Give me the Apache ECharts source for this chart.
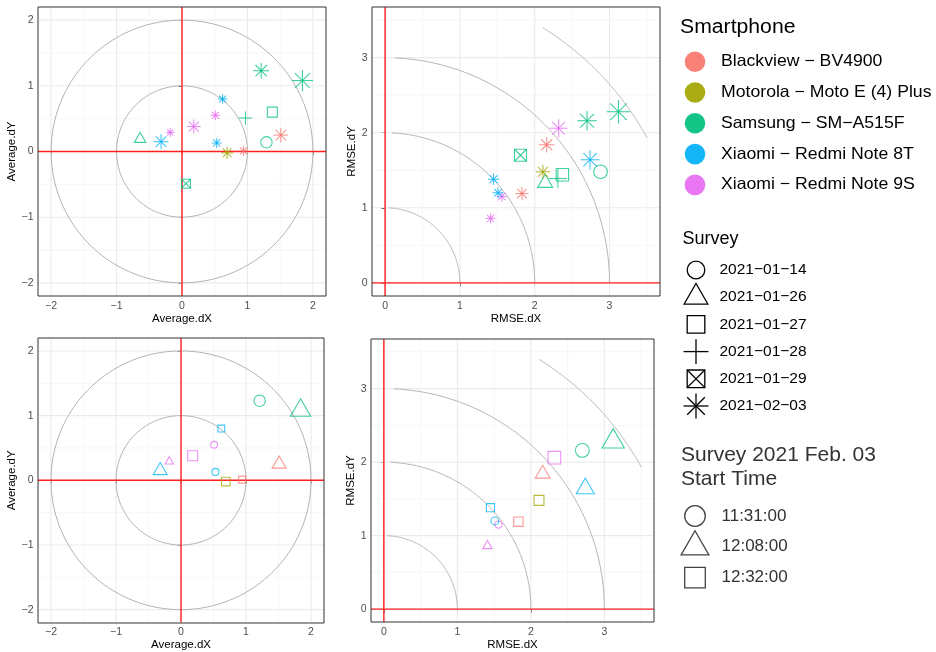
<!DOCTYPE html>
<html><head><meta charset="utf-8">
<script src="https://cdn.jsdelivr.net/npm/echarts@6/dist/echarts.min.js"></script>
<style>html,body{margin:0;padding:0;background:#fff}#c{width:936px;height:652px}</style>
</head><body><div id="c"></div>
<script>
// ================= DATA =================
const phones = ['Blackview \u2212 BV4900', 'Motorola \u2212 Moto E (4) Plus', 'Samsung \u2212 SM\u2212A515F', 'Xiaomi \u2212 Redmi Note 8T', 'Xiaomi \u2212 Redmi Note 9S'];
const surveyDates = ['2021\u221201\u221214', '2021\u221201\u221226', '2021\u221201\u221227', '2021\u221201\u221228', '2021\u221201\u221229', '2021\u221202\u221203'];
const startTimes = ['11:31:00', '12:08:00', '12:32:00'];

const avgTicks = [-2, -1, 0, 1, 2];
const avgMinor = [-1.5, -0.5, 0.5, 1.5];
const rmseTicks = [0, 1, 2, 3];
const rmseMinor = [0.5, 1.5, 2.5, 3.5];
const avgRingRadii = [1, 2];
const rmseArcRadii = [1, 2, 3, 4];
const rmseArcFromDeg = [0, 0, 0, 28.9];
const rmseArcToDeg = [87.4, 87.4, 87.4, 58.2];

// Earlier surveys (Samsung only): survey index 0..4
const earlyPhone = [2, 2, 2, 2, 2];
const earlySurvey = [0, 1, 2, 3, 4];
const earlyAvgDX = [1.29, -0.64, 1.38, 0.97, 0.06];
const earlyAvgDY = [0.14, 0.19, 0.60, 0.51, -0.49];
const earlyRmseDX = [2.88, 2.14, 2.37, 2.31, 1.81];
const earlyRmseDY = [1.48, 1.33, 1.44, 1.39, 1.70];
const earlyAvgSize = [5.7, 4.3, 5.0, 4.7, 4.5];
const earlyRmseSize = [6.8, 5.6, 6.2, 6.5, 6.0];

// Survey 2021-02-03, start time index 0..2
const febPhone = [2, 2, 3, 4, 4, 4, 3, 3, 1, 0, 0];
const febTime = [0, 1, 2, 0, 2, 1, 1, 0, 2, 2, 1];
const febAvgDX = [1.21, 1.84, 0.62, 0.51, 0.18, -0.18, -0.32, 0.53, 0.69, 0.94, 1.51];
const febAvgDY = [1.23, 1.08, 0.80, 0.55, 0.38, 0.29, 0.15, 0.13, -0.02, 0.01, 0.25];
const febRmseDX = [2.70, 3.12, 1.45, 1.56, 2.32, 1.41, 2.74, 1.51, 2.11, 1.83, 2.16];
const febRmseDY = [2.16, 2.28, 1.38, 1.15, 2.06, 0.86, 1.64, 1.20, 1.48, 1.19, 1.84];
const febAvgSize = [5.7, 7.5, 3.4, 3.4, 5.0, 3.1, 5.2, 3.5, 4.3, 3.5, 5.2];
const febRmseSize = [6.9, 8.3, 4.1, 3.6, 6.3, 3.5, 6.7, 3.9, 5.0, 4.7, 5.5];

// ================= STYLE =================
const FONT = '"Liberation Sans", Arial, Helvetica, sans-serif';
const phoneColors = ['#F8766D', '#A3A500', '#00BF7D', '#00B0F6', '#E76BF3'];
const surveyShapes = ['circle', 'triangle', 'square', 'plus', 'boxX', 'asterisk'];
const timeShapes = ['circle', 'triangle', 'square'];
const SIZE_K = 1.0;          // size variable -> symbol radius (px)
const POINT_ALPHA = 0.75;
const POINT_LW = 1.1;

const PANELS = [
  { left: 38, top: 7, width: 288, height: 289 },   // top-left
  { left: 372, top: 7, width: 288, height: 289 },  // top-right
  { left: 38, top: 338, width: 286, height: 285 }, // bottom-left
  { left: 371, top: 339, width: 283, height: 283 } // bottom-right
];

function shapeEls(kind, cx, cy, R, color, lw, opacity) {
  const st = () => ({ fill: 'none', stroke: color, lineWidth: lw, opacity: opacity });
  const L = (x1, y1, x2, y2) => ({ type: 'line', shape: { x1, y1, x2, y2 }, style: st() });
  const p = Math.SQRT2 * R;
  switch (kind) {
    case 'circle':
      return [{ type: 'circle', shape: { cx, cy, r: R }, style: st() }];
    case 'triangle': {
      const r = 1.5551 * R, xc = 1.3468 * R, yc = 0.7776 * R;
      return [{ type: 'polygon', shape: { points: [[cx, cy - r], [cx + xc, cy + yc], [cx - xc, cy + yc]] }, style: st() }];
    }
    case 'square':
      return [{ type: 'rect', shape: { x: cx - R, y: cy - R, width: 2 * R, height: 2 * R }, style: st() }];
    case 'plus':
      return [L(cx - p, cy, cx + p, cy), L(cx, cy - p, cx, cy + p)];
    case 'boxX':
      return [{ type: 'rect', shape: { x: cx - R, y: cy - R, width: 2 * R, height: 2 * R }, style: st() },
        L(cx - R, cy - R, cx + R, cy + R), L(cx - R, cy + R, cx + R, cy - R)];
    case 'asterisk':
      return [L(cx - R, cy - R, cx + R, cy + R), L(cx - R, cy + R, cx + R, cy - R),
        L(cx - p, cy, cx + p, cy), L(cx, cy - p, cx, cy + p)];
  }
  return [];
}

const minusFmt = v => String(v).replace('-', '\u2212');

function makeAxes(gi, min, max, ticks, xName, yName, yNameGap) {
  const base = {
    type: 'value', gridIndex: gi, min: min, max: max,
    axisLine: { show: false },
    axisTick: { show: true, length: 3.5, lineStyle: { color: '#333333', width: 1 }, customValues: ticks },
    axisLabel: { customValues: ticks, color: '#4D4D4D', fontSize: 10.5, fontFamily: FONT, margin: 4.5, formatter: minusFmt },
    splitLine: { show: false },
    nameLocation: 'middle',
    nameTextStyle: { color: '#000', fontSize: 11.5, fontFamily: FONT }
  };
  return {
    x: Object.assign({}, base, { name: xName, nameGap: 14 }),
    y: Object.assign({}, base, { name: yName, nameGap: yNameGap })
  };
}

// background: minor & major grid lines
function gridSeries(gi, min, max, major, minor) {
  return {
    type: 'custom', xAxisIndex: gi, yAxisIndex: gi, z: 1, silent: true,
    data: [[0, 0]],
    renderItem: function (params, api) {
      const ch = [];
      const add = (vals, color, w) => vals.forEach(v => {
        const a = api.coord([v, min]), b = api.coord([v, max]);
        ch.push({ type: 'line', shape: { x1: a[0], y1: a[1], x2: b[0], y2: b[1] }, style: { stroke: color, lineWidth: w } });
        const c = api.coord([min, v]), d = api.coord([max, v]);
        ch.push({ type: 'line', shape: { x1: c[0], y1: c[1], x2: d[0], y2: d[1] }, style: { stroke: color, lineWidth: w } });
      });
      add(minor, '#F4F4F4', 0.8);
      add(major, '#EBEBEB', 1.1);
      return { type: 'group', children: ch };
    }
  };
}

// reference circles / arcs + red zero lines
function guideSeries(gi, min, max, radii, fromDeg, toDeg) {
  return {
    type: 'custom', xAxisIndex: gi, yAxisIndex: gi, z: 2, silent: true,
    data: [[0, 0]],
    renderItem: function (params, api) {
      const ch = [];
      radii.forEach((r, i) => {
        const pts = [];
        const a0 = fromDeg[i], a1 = toDeg[i];
        const n = 180;
        for (let k = 0; k <= n; k++) {
          const t = (a0 + (a1 - a0) * k / n) * Math.PI / 180;
          pts.push(api.coord([r * Math.cos(t), r * Math.sin(t)]));
        }
        ch.push({ type: 'polyline', shape: { points: pts }, style: { stroke: '#B3B3B3', lineWidth: 1, fill: 'none' } });
      });
      const a = api.coord([0, min]), b = api.coord([0, max]);
      const c = api.coord([min, 0]), d = api.coord([max, 0]);
      ch.push({ type: 'line', shape: { x1: a[0], y1: a[1], x2: b[0], y2: b[1] }, style: { stroke: '#FF1F1F', lineWidth: 1.4 } });
      ch.push({ type: 'line', shape: { x1: c[0], y1: c[1], x2: d[0], y2: d[1] }, style: { stroke: '#FF1F1F', lineWidth: 1.4 } });
      return { type: 'group', children: ch };
    }
  };
}

// points: item = [x, y, phoneIdx, shape index, sizeVar]
function pointSeries(gi, items, shapeList) {
  return {
    type: 'custom', xAxisIndex: gi, yAxisIndex: gi, z: 3,
    data: items,
    encode: { x: 0, y: 1 },
    renderItem: function (params, api) {
      const pt = api.coord([api.value(0), api.value(1)]);
      const color = phoneColors[api.value(2)];
      const kind = shapeList[api.value(3)];
      const R = api.value(4) * SIZE_K;
      return { type: 'group', children: shapeEls(kind, pt[0], pt[1], R, color, POINT_LW, POINT_ALPHA) };
    }
  };
}

// Build point sets
const topAvg = [], topRmse = [], botAvg = [], botRmse = [];
earlyPhone.forEach((p, i) => {
  topAvg.push([earlyAvgDX[i], earlyAvgDY[i], p, earlySurvey[i], earlyAvgSize[i]]);
  topRmse.push([earlyRmseDX[i], earlyRmseDY[i], p, earlySurvey[i], earlyRmseSize[i]]);
});
febPhone.forEach((p, i) => {
  topAvg.push([febAvgDX[i], febAvgDY[i], p, 5, febAvgSize[i]]);
  topRmse.push([febRmseDX[i], febRmseDY[i], p, 5, febRmseSize[i]]);
  botAvg.push([febAvgDX[i], febAvgDY[i], p, febTime[i], febAvgSize[i]]);
  botRmse.push([febRmseDX[i], febRmseDY[i], p, febTime[i], febRmseSize[i]]);
});

const AVG_MIN = -2.2, AVG_MAX = 2.2, RM_MIN = -0.175, RM_MAX = 3.675;
const ax0 = makeAxes(0, AVG_MIN, AVG_MAX, avgTicks, 'Average.dX', 'Average.dY', 14.5);
const ax1 = makeAxes(1, RM_MIN, RM_MAX, rmseTicks, 'RMSE.dX', 'RMSE.dY', 10.5);
const ax2 = makeAxes(2, AVG_MIN, AVG_MAX, avgTicks, 'Average.dX', 'Average.dY', 14.5);
const ax3 = makeAxes(3, RM_MIN, RM_MAX, rmseTicks, 'RMSE.dX', 'RMSE.dY', 10.5);

// ================= LEGENDS (graphic) =================
const graphics = [];
// panel borders on top
PANELS.forEach(pn => graphics.push({
  type: 'rect', z: 100, silent: true,
  shape: { x: pn.left, y: pn.top, width: pn.width, height: pn.height },
  style: { fill: 'none', stroke: '#333333', lineWidth: 1 }
}));
const txt = (s, x, y, size, color, sx) => ({
  type: 'text', z: 100, x: x, y: y, scaleX: sx || 1,
  style: { text: s, fill: color || '#000', font: size + 'px ' + FONT, textVerticalAlign: 'middle', textAlign: 'left' }
});
graphics.push(txt('Smartphone', 680, 27, 20, '#000', 1.06));
phones.forEach((name, i) => {
  const cy = 61.7 + i * 30.8;
  graphics.push({ type: 'circle', z: 100, shape: { cx: 695, cy: cy, r: 10.3 }, style: { fill: phoneColors[i], opacity: 0.92 } });
  graphics.push(txt(name, 721, cy, 16.5, '#000', 1.07));
});
graphics.push(txt('Survey', 682.5, 239, 17.5, '#000', 1.03));
surveyDates.forEach((d, i) => {
  const cy = 270 + i * 27.2;
  shapeEls(surveyShapes[i], 696, cy, 8.8, '#000', 1.3, 1).forEach(e => { e.z = 100; graphics.push(e); });
  graphics.push(txt(d, 719.5, cy, 15.5, '#000'));
});
graphics.push(txt('Survey 2021 Feb. 03', 681, 455, 21, '#333'));
graphics.push(txt('Start Time', 681, 479.5, 21, '#333'));
startTimes.forEach((t, i) => {
  const cy = 516 + i * 30.8;
  shapeEls(timeShapes[i], 695, cy, 10.3, '#444', 1.3, 1).forEach(e => { e.z = 100; graphics.push(e); });
  graphics.push(txt(t, 721.5, cy, 17, '#333'));
});

const option = {
  backgroundColor: '#fff',
  animation: false,
  grid: PANELS.map(pn => ({ left: pn.left, top: pn.top, width: pn.width, height: pn.height, show: false, containLabel: false })),
  xAxis: [ax0.x, ax1.x, ax2.x, ax3.x],
  yAxis: [ax0.y, ax1.y, ax2.y, ax3.y],
  series: [
    gridSeries(0, AVG_MIN, AVG_MAX, avgTicks, avgMinor),
    gridSeries(1, RM_MIN, RM_MAX, rmseTicks, rmseMinor),
    gridSeries(2, AVG_MIN, AVG_MAX, avgTicks, avgMinor),
    gridSeries(3, RM_MIN, RM_MAX, rmseTicks, rmseMinor),
    guideSeries(0, AVG_MIN, AVG_MAX, avgRingRadii, [0, 0], [360, 360]),
    guideSeries(1, RM_MIN, RM_MAX, rmseArcRadii, rmseArcFromDeg, rmseArcToDeg),
    guideSeries(2, AVG_MIN, AVG_MAX, avgRingRadii, [0, 0], [360, 360]),
    guideSeries(3, RM_MIN, RM_MAX, rmseArcRadii, rmseArcFromDeg, rmseArcToDeg),
    pointSeries(0, topAvg, surveyShapes),
    pointSeries(1, topRmse, surveyShapes),
    pointSeries(2, botAvg, timeShapes),
    pointSeries(3, botRmse, timeShapes)
  ],
  graphic: graphics
};

const chart = echarts.init(document.getElementById('c'), null, { renderer: 'canvas' });
chart.setOption(option);
</script>
</body></html>
